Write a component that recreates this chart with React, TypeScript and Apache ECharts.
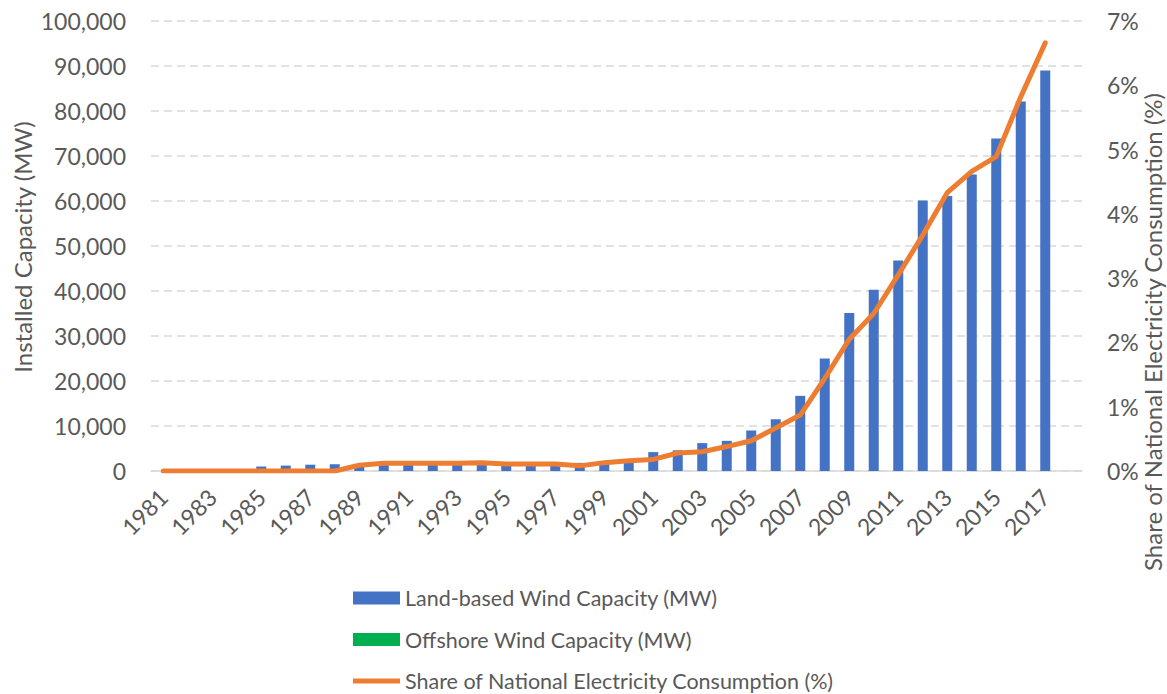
import React, { useEffect, useRef } from "react";
import * as echarts from "echarts";

const years: string[] = [
  "1981", "1982", "1983", "1984", "1985", "1986", "1987", "1988", "1989", "1990",
  "1991", "1992", "1993", "1994", "1995", "1996", "1997", "1998", "1999", "2000",
  "2001", "2002", "2003", "2004", "2005", "2006", "2007", "2008", "2009", "2010",
  "2011", "2012", "2013", "2014", "2015", "2016", "2017", "2018",
];

const landCapacity: (number | null)[] = [
  0, 50, 200, 400, 1000, 1200, 1400, 1500, 1500, 1600,
  1600, 1600, 1700, 1800, 1700, 1700, 1600, 1800, 2000, 2300,
  4200, 4600, 6200, 6700, 9000, 11500, 16700, 25000, 35100, 40300,
  46800, 60100, 61100, 65900, 73900, 82100, 89000, null,
];

const offshoreCapacity: (number | null)[] = [
  0, 0, 0, 0, 0, 0, 0, 0, 0, 0,
  0, 0, 0, 0, 0, 0, 0, 0, 0, 0,
  0, 0, 0, 0, 0, 0, 0, 0, 0, 0,
  0, 0, 0, 0, 0, 0, 0, null,
];

const sharePct: (number | null)[] = [
  0, 0, 0, 0, 0, 0, 0, 0, 0.09, 0.12,
  0.12, 0.12, 0.12, 0.13, 0.11, 0.11, 0.11, 0.08, 0.13, 0.16,
  0.18, 0.28, 0.3, 0.38, 0.47, 0.67, 0.87, 1.44, 2.05, 2.45,
  3.05, 3.67, 4.33, 4.66, 4.89, 5.82, 6.66, null,
];

const leftTitle = "Installed Capacity (MW)";
const rightTitle = "Share of National Electricity Consumption (%)";
const seriesNames = [
  "Land-based Wind Capacity (MW)",
  "Offshore Wind Capacity (MW)",
  "Share of National Electricity Consumption (%)",
];

const FONT = "Lato";
const TXT = "#595959";

export default function App() {
  const ref = useRef<HTMLDivElement>(null);
  useEffect(() => {
    if (!ref.current) return;
    const chart = echarts.init(ref.current, null, { renderer: "svg" });
    chart.setOption({
      animation: false,
      backgroundColor: "#ffffff",
      textStyle: { fontFamily: FONT, color: TXT },
      grid: { left: 151, right: 85, top: 21, bottom: 223, containLabel: false },
      legend: {
        orient: "vertical",
        left: 353,
        top: 587,
        padding: 0,
        itemWidth: 47,
        itemHeight: 13,
        itemGap: 19.5,
        textStyle: { fontFamily: FONT, fontSize: 21.5, color: TXT, lineHeight: 21 },
        data: [
          { name: seriesNames[0], icon: "rect" },
          { name: seriesNames[1], icon: "rect" },
          { name: seriesNames[2], icon: "path://M0,0 L100,0 L100,11 L0,11 Z" },
        ],
      },
      xAxis: {
        type: "category",
        data: years,
        boundaryGap: true,
        axisLine: { lineStyle: { color: "#D9D9D9", width: 1.5 } },
        axisTick: { show: false },
        axisLabel: {
          interval: 1,
          rotate: 45,
          margin: 22,
          fontFamily: FONT,
          fontSize: 23,
          color: TXT,
        },
      },
      yAxis: [
        {
          type: "value",
          min: 0,
          max: 100000,
          interval: 10000,
          axisLine: { show: false },
          axisTick: { show: false },
          axisLabel: {
            margin: 25,
            fontFamily: FONT,
            fontSize: 23,
            color: TXT,
            formatter: (v: number) => v.toLocaleString("en-US"),
          },
          splitLine: { lineStyle: { color: "#D9D9D9", width: 1.5, type: [8, 5] } },
        },
        {
          type: "value",
          min: 0,
          max: 7,
          interval: 1,
          position: "right",
          axisLine: { show: false },
          axisTick: { show: false },
          axisLabel: {
            margin: 25,
            fontFamily: FONT,
            fontSize: 23,
            color: TXT,
            formatter: "{value}%",
          },
          splitLine: { show: false },
        },
      ],
      graphic: [
        {
          type: "text",
          x: 22,
          y: 247,
          rotation: Math.PI / 2,
          style: {
            text: leftTitle,
            fontFamily: FONT,
            fontSize: 24,
            fill: TXT,
            align: "center",
            verticalAlign: "middle",
          },
        },
        {
          type: "text",
          x: 1152,
          y: 332,
          rotation: Math.PI / 2,
          style: {
            text: rightTitle,
            fontFamily: FONT,
            fontSize: 24,
            fill: TXT,
            align: "center",
            verticalAlign: "middle",
          },
        },
      ],
      series: [
        {
          name: seriesNames[0],
          type: "bar",
          stack: "cap",
          barWidth: 10,
          data: landCapacity,
          itemStyle: { color: "#4472C4" },
        },
        {
          name: seriesNames[1],
          type: "bar",
          stack: "cap",
          barWidth: 10,
          data: offshoreCapacity,
          itemStyle: { color: "#00B050" },
        },
        {
          name: seriesNames[2],
          type: "line",
          yAxisIndex: 1,
          data: sharePct,
          showSymbol: false,
          symbol: "none",
          itemStyle: { color: "#ED7D31" },
          lineStyle: { color: "#ED7D31", width: 5, cap: "round", join: "round" },
        },
      ],
    });
    return () => chart.dispose();
  }, []);
  return (
    <div
      ref={ref}
      style={{ position: "fixed", left: 0, top: 0, width: 1167, height: 694 }}
    />
  );
}
